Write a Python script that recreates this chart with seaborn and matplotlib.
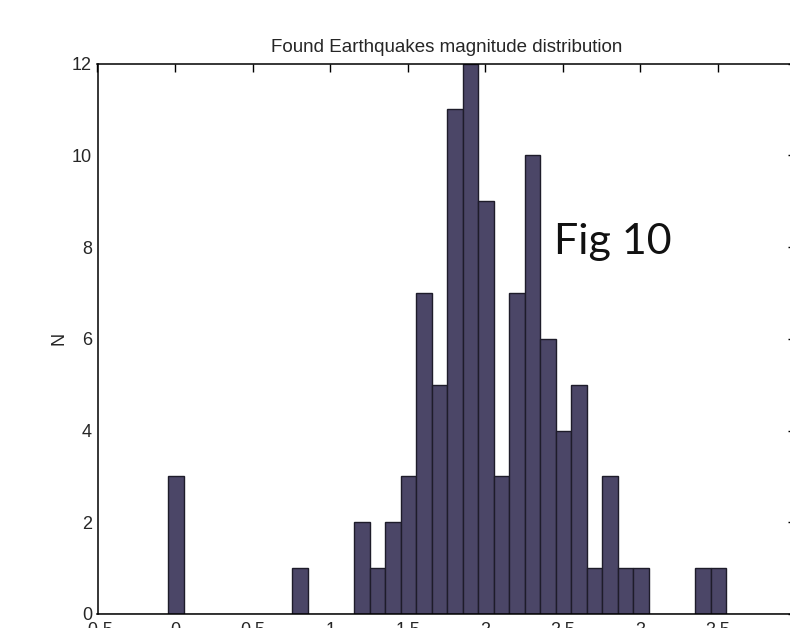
import numpy as np
import pandas as pd
import matplotlib
matplotlib.use("Agg")
import matplotlib.pyplot as plt
import seaborn as sns

# Magnitude bin centres (bin width 0.1) and event counts per bin
magnitude_centres = [0.0, 0.8, 1.2, 1.3, 1.4, 1.5, 1.6, 1.7, 1.8, 1.9, 2.0,
                     2.1, 2.2, 2.3, 2.4, 2.5, 2.6, 2.7, 2.8, 2.9, 3.0, 3.4, 3.5]
event_counts = [3, 1, 2, 1, 2, 3, 7, 5, 11, 12, 9,
                3, 7, 10, 6, 4, 5, 1, 3, 1, 1, 1, 1]
x_ticks = [-0.5, 0, 0.5, 1, 1.5, 2, 2.5, 3, 3.5, 4]
x_tick_labels = ["-0.5", "0", "0.5", "1", "1.5", "2", "2.5", "3", "3.5", "4"]
y_ticks = [0, 2, 4, 6, 8, 10, 12]

bin_width = 0.1
offset = 0.005
# edges sit half a bin either side of each centre
bin_edges = list(np.round(np.arange(-0.55, 4.05 + bin_width / 2, bin_width), 3) + offset)

df = pd.DataFrame({"magnitude": np.array(magnitude_centres) + offset,
                   "count": event_counts})

sns.set_style("white")
plt.rcParams["font.family"] = ["Liberation Sans", "DejaVu Sans"]

fig = plt.figure(figsize=(7.9, 6.28), dpi=100)
ax = fig.add_axes([97.5 / 790, 14 / 628, 698 / 790, 550.5 / 628])

sns.histplot(data=df, x="magnitude", weights="count",
             bins=bin_edges, color="#4b4667", edgecolor="#1e1c2a",
             linewidth=1.0, alpha=1.0, ax=ax)

ax.set_xlim(-0.5, 4.0)
ax.set_ylim(0, 12)
ax.set_xticks(x_ticks)
ax.set_xticklabels(x_tick_labels)
ax.set_yticks(y_ticks)
ax.tick_params(axis="both", direction="in", length=6, width=1.0, top=True,
               right=True, labelsize=13, color="black")
ax.tick_params(axis="x", pad=6)
ax.tick_params(axis="y", pad=4)
for side in ax.spines.values():
    side.set_visible(True)
    side.set_color("black")
    side.set_linewidth(1.1)

ax.set_title("Found Earthquakes magnitude distribution", fontsize=13.5, pad=8)
ax.set_ylabel("N", fontsize=13, labelpad=3)
ax.set_xlabel("")

ax.text(2.44, 8.1, "Fig 10", fontsize=31, family=["Lato", "DejaVu Sans"],
        fontweight="normal", va="center", ha="left", color="#111111")

fig.savefig("out.png", dpi=100)
